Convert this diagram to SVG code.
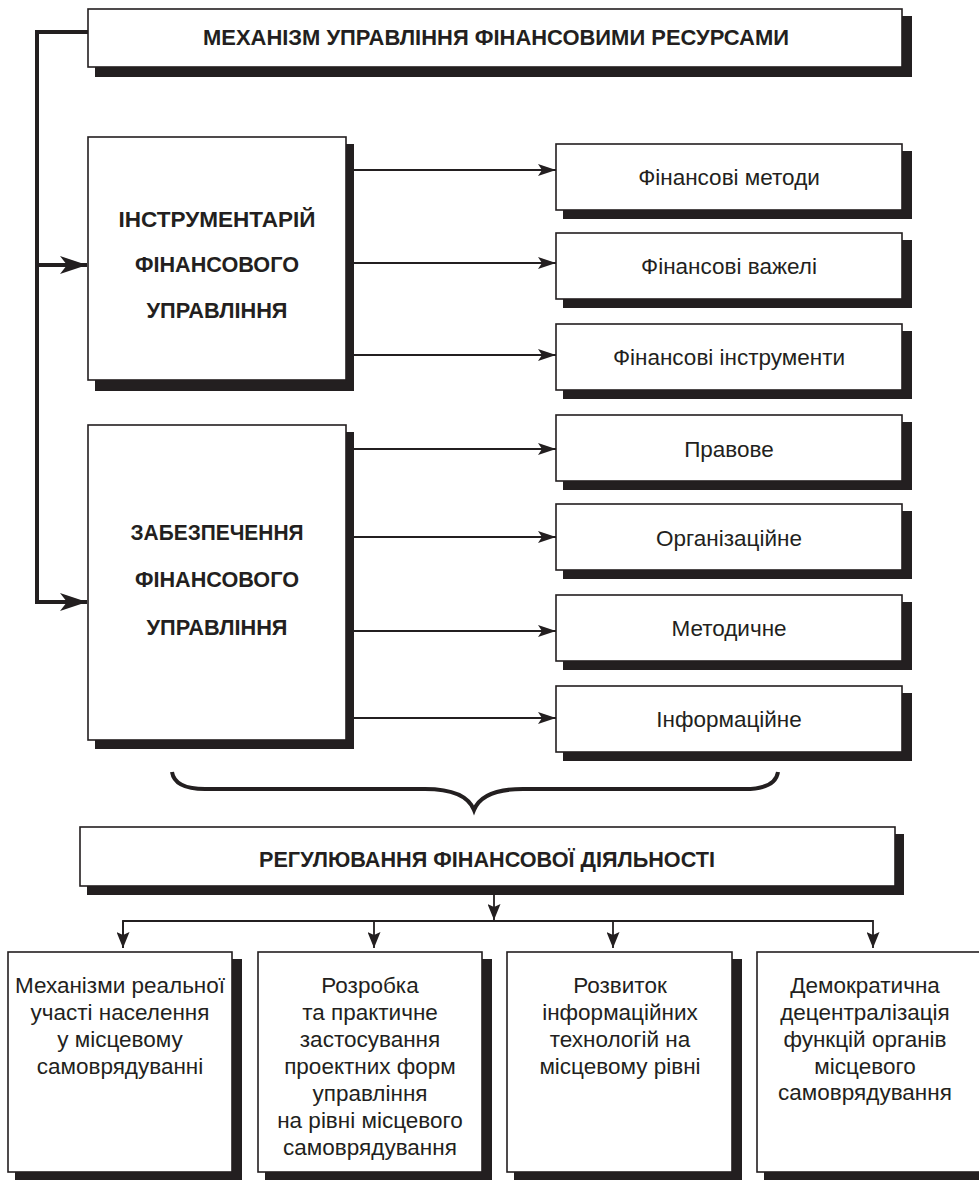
<svg xmlns="http://www.w3.org/2000/svg" width="979" height="1180" viewBox="0 0 979 1180">
<style>
.box{fill:#fff;stroke:#231f20;stroke-width:1.6}
.sh{fill:#231f20}
.tb{font-family:"Liberation Sans",Arial,sans-serif;font-weight:bold;fill:#231f20;text-anchor:middle}
.t{font-family:"Liberation Sans",Arial,sans-serif;fill:#231f20;text-anchor:middle}
.ln{stroke:#231f20;stroke-width:1.8;fill:none}
.thick{stroke:#231f20;stroke-width:4;fill:none}
</style>
<defs>
<marker id="ah" markerUnits="userSpaceOnUse" markerWidth="19" markerHeight="12" refX="18" refY="6" orient="auto">
<path d="M0,0 L18,6 L0,12 L4,6 z" fill="#231f20"/>
</marker>
<marker id="ahd" markerUnits="userSpaceOnUse" markerWidth="17" markerHeight="13" refX="16" refY="6.5" orient="auto">
<path d="M0,0 L16,6.5 L0,13 L3,6.5 z" fill="#231f20"/>
</marker>
<marker id="ahb" markerUnits="userSpaceOnUse" markerWidth="28" markerHeight="18" refX="27" refY="9" orient="auto">
<path d="M0,0 L27,9 L0,18 L7,9 z" fill="#231f20"/>
</marker>
</defs>

<g id="connectors">
<path class="thick" d="M88,32 H37 V602 H87" marker-end="url(#ahb)"/>
<path class="thick" d="M37,265 H87" marker-end="url(#ahb)"/>
<path class="ln" d="M350,170 H556" marker-end="url(#ah)"/>
<path class="ln" d="M350,263 H556" marker-end="url(#ah)"/>
<path class="ln" d="M350,355 H556" marker-end="url(#ah)"/>
<path class="ln" d="M350,449 H556" marker-end="url(#ah)"/>
<path class="ln" d="M350,537 H556" marker-end="url(#ah)"/>
<path class="ln" d="M350,631 H556" marker-end="url(#ah)"/>
<path class="ln" d="M350,718 H556" marker-end="url(#ah)"/>
<path class="thick" d="M172,772 C174,785 188,789 205,789 H425 C450,789 468,795 474,810 C480,795 498,789 523,789 H745 C762,789 776,785 778,772"/>
<path class="ln" d="M494,893 V920" marker-end="url(#ahd)"/>
<path class="ln" d="M123,948 V921 H873 V948" marker-end="url(#ahd)"/>
<path class="ln" d="M123,921 V948" marker-end="url(#ahd)"/>
<path class="ln" d="M374,921 V948" marker-end="url(#ahd)"/>
<path class="ln" d="M613,921 V948" marker-end="url(#ahd)"/>
</g>

<g id="n-title">
<rect class="sh" x="95" y="16" width="817" height="61"/>
<rect class="box" x="88" y="9" width="814" height="58"/>
<text class="tb" x="496" y="45" font-size="22" textLength="586" lengthAdjust="spacingAndGlyphs">МЕХАНІЗМ УПРАВЛІННЯ ФІНАНСОВИМИ РЕСУРСАМИ</text>
</g>

<g id="n-instr">
<rect class="sh" x="95" y="144" width="259" height="247"/>
<rect class="box" x="88" y="137" width="258" height="243"/>
<text class="tb" x="217" y="227" font-size="22" textLength="197" lengthAdjust="spacingAndGlyphs">ІНСТРУМЕНТАРІЙ</text>
<text class="tb" x="217" y="272" font-size="22" textLength="164" lengthAdjust="spacingAndGlyphs">ФІНАНСОВОГО</text>
<text class="tb" x="217" y="318" font-size="22" textLength="141" lengthAdjust="spacingAndGlyphs">УПРАВЛІННЯ</text>
</g>

<g id="n-zabezp">
<rect class="sh" x="95" y="432" width="259" height="317"/>
<rect class="box" x="88" y="425" width="258" height="315"/>
<text class="tb" x="217" y="540" font-size="22" textLength="173" lengthAdjust="spacingAndGlyphs">ЗАБЕЗПЕЧЕННЯ</text>
<text class="tb" x="217" y="587" font-size="22" textLength="164" lengthAdjust="spacingAndGlyphs">ФІНАНСОВОГО</text>
<text class="tb" x="217" y="635" font-size="22" textLength="141" lengthAdjust="spacingAndGlyphs">УПРАВЛІННЯ</text>
</g>

<g id="n-metody">
<rect class="sh" x="563" y="151" width="349" height="68"/>
<rect class="box" x="556" y="144" width="346" height="66"/>
<text class="t" x="729" y="185" font-size="22.5">Фінансові методи</text>
</g>
<g id="n-vazheli">
<rect class="sh" x="563" y="240" width="349" height="68"/>
<rect class="box" x="556" y="233" width="346" height="66"/>
<text class="t" x="729" y="274" font-size="22.5">Фінансові важелі</text>
</g>
<g id="n-instrumenty">
<rect class="sh" x="563" y="331" width="349" height="68"/>
<rect class="box" x="556" y="324" width="346" height="66"/>
<text class="t" x="729" y="365" font-size="22.5">Фінансові інструменти</text>
</g>
<g id="n-pravove">
<rect class="sh" x="563" y="422" width="349" height="68"/>
<rect class="box" x="556" y="415" width="346" height="66"/>
<text class="t" x="729" y="457" font-size="22.5">Правове</text>
</g>
<g id="n-org">
<rect class="sh" x="563" y="511" width="349" height="68"/>
<rect class="box" x="556" y="504" width="346" height="66"/>
<text class="t" x="729" y="546" font-size="22.5">Організаційне</text>
</g>
<g id="n-metod">
<rect class="sh" x="563" y="602" width="349" height="68"/>
<rect class="box" x="556" y="595" width="346" height="66"/>
<text class="t" x="729" y="636" font-size="22.5">Методичне</text>
</g>
<g id="n-inform">
<rect class="sh" x="563" y="693" width="349" height="68"/>
<rect class="box" x="556" y="686" width="346" height="66"/>
<text class="t" x="729" y="727" font-size="22.5">Інформаційне</text>
</g>

<g id="n-reg">
<rect class="sh" x="87" y="834" width="817" height="61"/>
<rect class="box" x="80" y="827" width="815" height="59"/>
<text class="tb" x="487" y="867" font-size="22" textLength="456" lengthAdjust="spacingAndGlyphs">РЕГУЛЮВАННЯ ФІНАНСОВОЇ ДІЯЛЬНОСТІ</text>
</g>

<g id="n-b1">
<rect class="sh" x="15" y="959" width="227" height="224"/>
<rect class="box" x="8" y="952" width="224" height="220"/>
<text class="t" font-size="22.5"><tspan x="120" y="993">Механізми реальної</tspan><tspan x="120" y="1020">участі населення</tspan><tspan x="120" y="1047">у місцевому</tspan><tspan x="120" y="1074">самоврядуванні</tspan></text>
</g>
<g id="n-b2">
<rect class="sh" x="265" y="959" width="227" height="224"/>
<rect class="box" x="258" y="952" width="224" height="220"/>
<text class="t" font-size="22.5"><tspan x="370" y="993">Розробка</tspan><tspan x="370" y="1020">та практичне</tspan><tspan x="370" y="1047">застосування</tspan><tspan x="370" y="1074">проектних форм</tspan><tspan x="370" y="1101">управління</tspan><tspan x="370" y="1128">на рівні місцевого</tspan><tspan x="370" y="1155">самоврядування</tspan></text>
</g>
<g id="n-b3">
<rect class="sh" x="514" y="959" width="228" height="224"/>
<rect class="box" x="507" y="952" width="225" height="220"/>
<text class="t" font-size="22.5"><tspan x="620" y="993">Розвиток</tspan><tspan x="620" y="1020">інформаційних</tspan><tspan x="620" y="1047">технологій на</tspan><tspan x="620" y="1074">місцевому рівні</tspan></text>
</g>
<g id="n-b4">
<rect class="sh" x="764" y="959" width="229" height="224"/>
<rect class="box" x="757" y="952" width="226" height="220"/>
<text class="t" font-size="22.5"><tspan x="865" y="993">Демократична</tspan><tspan x="865" y="1020">децентралізація</tspan><tspan x="865" y="1047">функцій органів</tspan><tspan x="865" y="1074">місцевого</tspan><tspan x="865" y="1100">самоврядування</tspan></text>
</g>
</svg>
